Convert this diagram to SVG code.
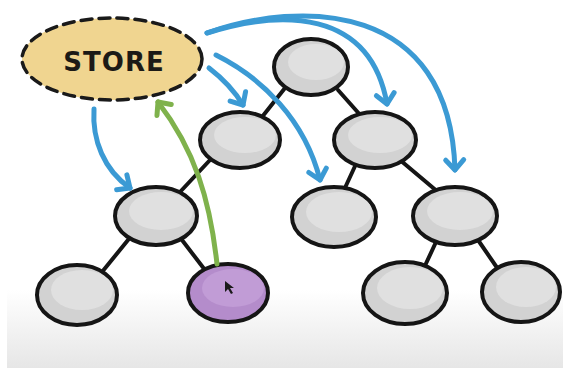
<svg xmlns="http://www.w3.org/2000/svg" width="563" height="368" viewBox="0 0 563 368">
  <defs>
    <linearGradient id="floor" x1="0" y1="0" x2="0" y2="1">
      <stop offset="0" stop-color="#ffffff"/>
      <stop offset="1" stop-color="#e6e6e6"/>
    </linearGradient>
    <marker id="headBlue" markerUnits="userSpaceOnUse" markerWidth="30" markerHeight="30" viewBox="-15 -15 30 30" refX="0" refY="0" orient="auto">
      <path d="M -10 -9 L 0 0 L -10 9" fill="none" stroke="#3b9ad4" stroke-width="5" stroke-linecap="round" stroke-linejoin="round"/>
    </marker>
    <marker id="headGreen" markerUnits="userSpaceOnUse" markerWidth="30" markerHeight="30" viewBox="-15 -15 30 30" refX="0" refY="0" orient="auto">
      <path d="M -10 -9 L 0 0 L -10 9" fill="none" stroke="#7fb24c" stroke-width="5" stroke-linecap="round" stroke-linejoin="round"/>
    </marker>
  </defs>
  <style>
    .edge { stroke: #151515; stroke-width: 4; stroke-linecap: round; fill: none; }
    .flow { stroke: #3b9ad4; stroke-width: 5; stroke-linecap: round; fill: none; marker-end: url(#headBlue); }
    .up { stroke: #7fb24c; stroke-width: 5; stroke-linecap: round; fill: none; marker-end: url(#headGreen); }
    .node { fill: #d2d2d2; stroke: #151515; stroke-width: 4; }
    .shine { fill: #e0e0e0; }
    .picked { fill: #b48ccb; stroke: #151515; stroke-width: 4; }
    .picked-shine { fill: #c19cd6; }
    .label { font-family: "DejaVu Sans", sans-serif; font-weight: bold; font-size: 26px; fill: #1c1a16; letter-spacing: 1px; }
  </style>

  <rect x="0" y="0" width="563" height="368" fill="#ffffff"/>
  <rect x="7" y="290" width="556" height="78" fill="url(#floor)"/>

  <!-- tree edges -->
  <g id="edges">
    <line class="edge" x1="285" y1="88" x2="262" y2="117"/>
    <line class="edge" x1="338" y1="90" x2="362" y2="117"/>
    <line class="edge" x1="210" y1="160" x2="180" y2="192"/>
    <line class="edge" x1="356" y1="164" x2="344" y2="190"/>
    <line class="edge" x1="400" y1="160" x2="438" y2="192"/>
    <line class="edge" x1="128" y1="240" x2="102" y2="272"/>
    <line class="edge" x1="182" y1="240" x2="205" y2="270"/>
    <line class="edge" x1="436" y1="242" x2="423" y2="270"/>
    <line class="edge" x1="478" y1="240" x2="500" y2="272"/>
  </g>

  <!-- nodes -->
  <g id="n-root">
    <ellipse class="node" cx="311" cy="67" rx="37" ry="28"/>
    <ellipse class="shine" cx="316" cy="62" rx="28" ry="18"/>
  </g>
  <g id="n-a">
    <ellipse class="node" cx="240" cy="140" rx="40" ry="28"/>
    <ellipse class="shine" cx="245" cy="135" rx="31" ry="18"/>
  </g>
  <g id="n-b">
    <ellipse class="node" cx="375" cy="140" rx="41" ry="28"/>
    <ellipse class="shine" cx="380" cy="135" rx="32" ry="18"/>
  </g>
  <g id="n-c">
    <ellipse class="node" cx="156" cy="216" rx="41" ry="29"/>
    <ellipse class="shine" cx="161" cy="211" rx="32" ry="19"/>
  </g>
  <g id="n-d">
    <ellipse class="node" cx="334" cy="217" rx="42" ry="30"/>
    <ellipse class="shine" cx="339" cy="212" rx="33" ry="20"/>
  </g>
  <g id="n-e">
    <ellipse class="node" cx="455" cy="216" rx="42" ry="29"/>
    <ellipse class="shine" cx="460" cy="211" rx="33" ry="19"/>
  </g>
  <g id="n-f">
    <ellipse class="node" cx="77" cy="295" rx="40" ry="30"/>
    <ellipse class="shine" cx="82" cy="290" rx="31" ry="20"/>
  </g>
  <g id="n-g">
    <ellipse class="picked" cx="228" cy="293" rx="40" ry="29"/>
    <ellipse class="picked-shine" cx="233" cy="288" rx="31" ry="19"/>
    <path d="M 225 281 L 225 292 L 228 289 L 231 294 L 233 293 L 230 288 L 234 288 Z" fill="#1a1a1a"/>
  </g>
  <g id="n-h">
    <ellipse class="node" cx="405" cy="293" rx="42" ry="31"/>
    <ellipse class="shine" cx="410" cy="288" rx="33" ry="21"/>
  </g>
  <g id="n-i">
    <ellipse class="node" cx="521" cy="292" rx="39" ry="30"/>
    <ellipse class="shine" cx="526" cy="287" rx="30" ry="20"/>
  </g>

  <!-- store -->
  <g id="store">
    <ellipse cx="112" cy="59" rx="90" ry="41" fill="#f0d590" stroke="#1a1a1a" stroke-width="3.5" stroke-dasharray="11 7" stroke-linecap="round"/>
    <text class="label" x="114" y="71" text-anchor="middle">STORE</text>
  </g>

  <!-- data flow arrows -->
  <g id="connectors">
    <path class="flow" d="M 94 109 C 92 140 104 170 130 188"/>
    <path class="flow" d="M 209 68 C 222 78 234 90 243 105"/>
    <path class="flow" d="M 216 55 C 262 78 305 120 320 180"/>
    <path class="flow" d="M 207 33 C 280 10 370 8 387 104"/>
    <path class="flow" d="M 207 33 C 300 0 450 0 455 170"/>
    <path class="up" d="M 217 264 C 210 200 195 150 158 102"/>
  </g>
</svg>
